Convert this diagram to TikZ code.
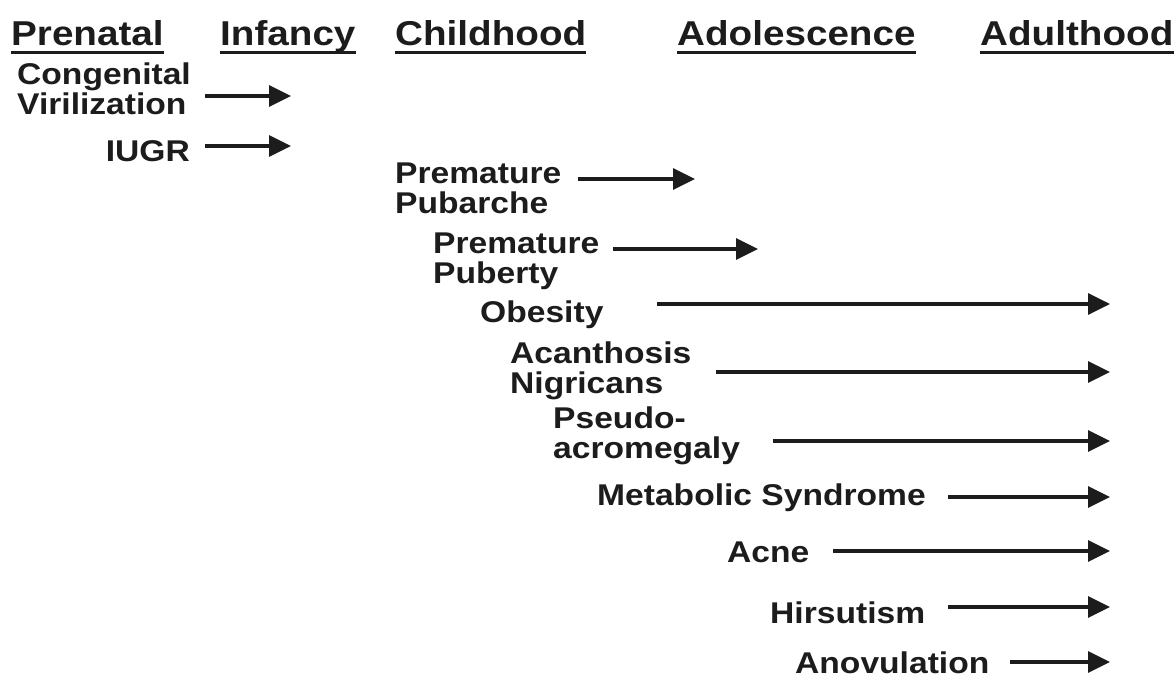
\documentclass[tikz,border=0pt]{standalone}
\usepackage{fontspec}
\setmainfont[FakeStretch=1.12]{Liberation Sans}
\usepackage{tikz}
\usetikzlibrary{arrows.meta, positioning}

\definecolor{ink}{RGB}{28,28,28}

\tikzset{
  stage/.style={anchor=base west, inner sep=0pt, text=ink,
    font=\fontsize{34.5}{38}\selectfont\bfseries},
  sign/.style={anchor=base west, inner sep=0pt, align=left, text=ink,
    font=\fontsize{30}{30}\selectfont\bfseries},
  onset/.style={draw=ink, line width=3.2pt, -{Triangle[length=22pt,width=21pt]}},
  uline/.style={draw=ink, line width=3pt},
}

\begin{document}
\begin{tikzpicture}[x=1pt, y=-1pt]
  \useasboundingbox (0,0) rectangle (1176,678);

  % stages of life
  \node [stage] (pre) at (11,45) {Prenatal};
  \node [stage] (inf) at (220,45) {Infancy};
  \node [stage] (chi) at (395,45) {Childhood};
  \node [stage] (ado) at (677,45) {Adolescence};
  \node [stage] (adu) at (980,45) {Adulthood};

  \foreach \s in {pre, inf, chi, ado, adu}
    \draw [uline] ([yshift=-7pt]\s.base west) -- ([yshift=-7pt]\s.base east);

  % signs (two-line ones sit on their last line)
  \node [sign] (cv) at (17,114) {Congenital\\Virilization};
  \node [sign, anchor=base east] (iugr) at (190,161) {IUGR};
  \node [sign] (ppa) at (395,213) {Premature\\Pubarche};
  \node [sign] (ppu) at (433,283) {Premature\\Puberty};
  \node [sign] (obe) at (480,322) {Obesity};
  \node [sign] (acn) at (510,393) {Acanthosis\\Nigricans};
  \node [sign] (pse) at (553,458) {Pseudo-\\acromegaly};
  \node [sign] (met) at (597,505) {Metabolic Syndrome};
  \node [sign] (acne) at (727,562) {Acne};
  \node [sign] (hir) at (770,623) {Hirsutism};
  \node [sign] (ano) at (795,673) {Anovulation};

  % onset arrows
  \foreach \n/\xs/\xe/\y in {cv/205/291/96, iugr/205/291/146, ppa/578/695/179,
      ppu/613/758/249, obe/657/1110/304, acn/716/1110/372, pse/773/1110/441,
      met/948/1110/497, acne/833/1110/551, hir/948/1110/607, ano/1010/1110/662} {
    \coordinate (\n-s) at (\xs,\y);
    \coordinate (\n-e) at (\xe,\y);
    \draw [onset] (\n-s) -- (\n-e);
  }
\end{tikzpicture}
\end{document}
